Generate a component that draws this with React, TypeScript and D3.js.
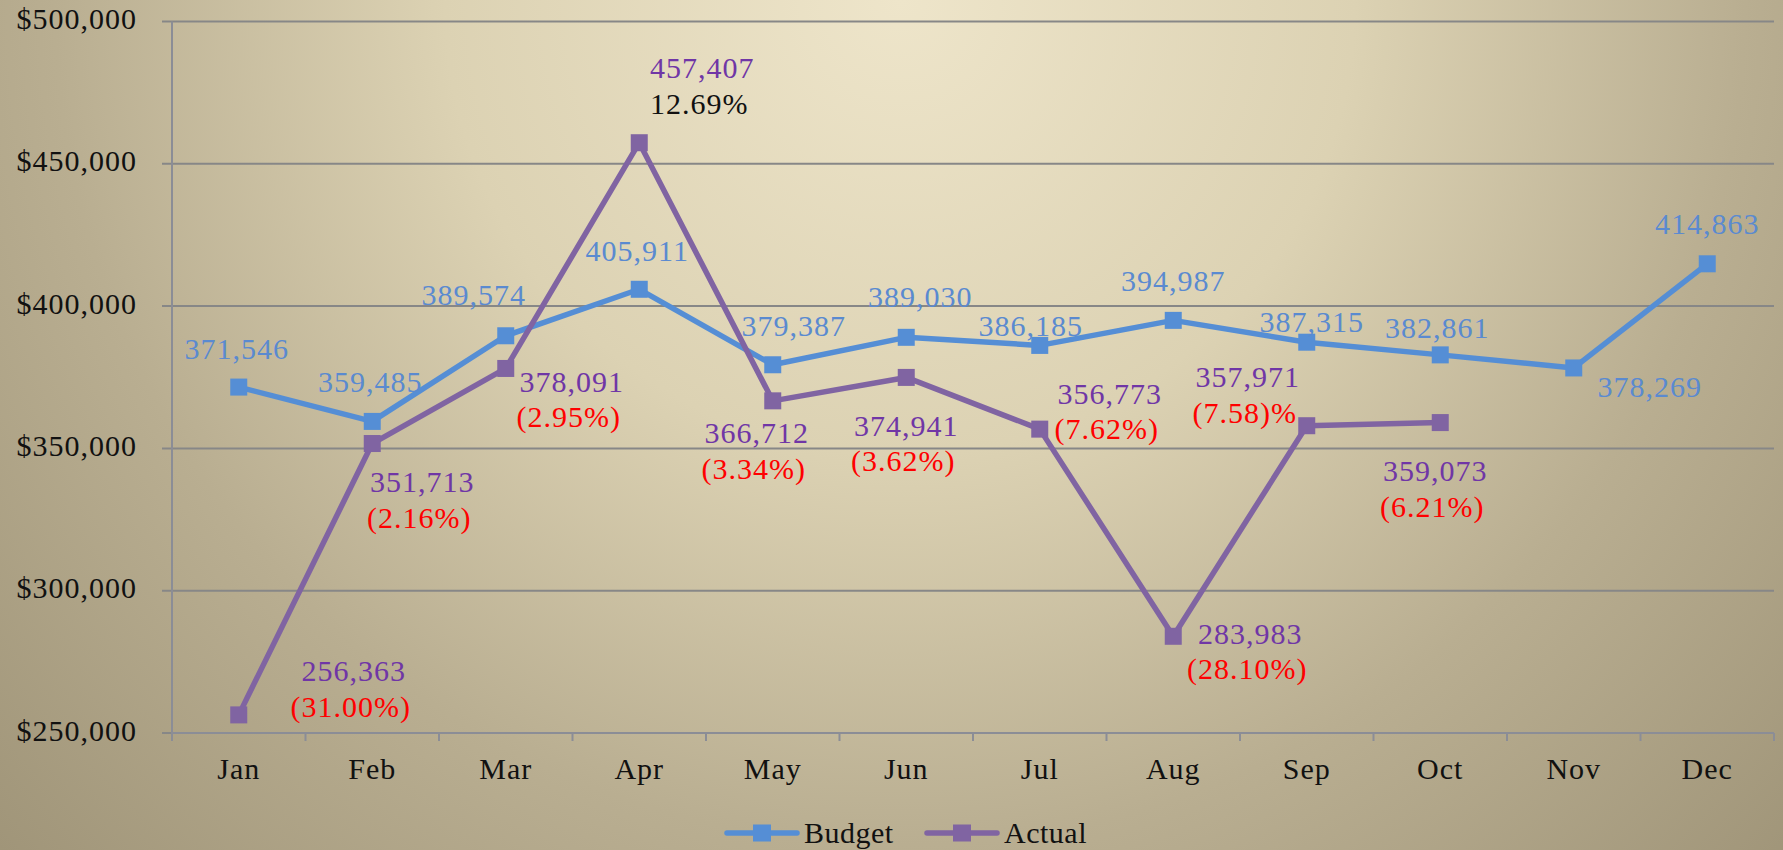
import { useRef, useEffect } from 'react';
import * as d3 from 'd3';

const MONTHS = ['Jan', 'Feb', 'Mar', 'Apr', 'May', 'Jun', 'Jul', 'Aug', 'Sep', 'Oct', 'Nov', 'Dec'];
const BUDGET = [371546, 359485, 389574, 405911, 379387, 389030, 386185, 394987, 387315, 382861, 378269, 414863];
const ACTUAL = [256363, 351713, 378091, 457407, 366712, 374941, 356773, 283983, 357971, 359073];
const VARIANCE = ['(31.00%)', '(2.16%)', '(2.95%)', '12.69%', '(3.34%)', '(3.62%)', '(7.62%)', '(28.10%)', '(7.58)%', '(6.21%)'];
const Y_TICKS = [250000, 300000, 350000, 400000, 450000, 500000];

// label nudges, [dx, dy] from the point (Excel places these by hand)
const BUDGET_LBL = [[-2, -39], [-2, -40], [-32, -41], [-2, -39], [21, -39], [14, -41], [-9, -20], [0, -40], [5, -21], [-3, -27], [76, 19], [0, -40]];
const ACTUAL_LBL = [[115, -44], [50, 38], [66, 13], [63, -75], [-16, 32], [0, 48], [70, -36], [77, -3], [-59, -49], [-5, 48]];

const BLUE = '#558ed5';
const PURPLE = '#8064a2';
const FONT = '"Liberation Serif", "Times New Roman", serif';
const FS = 30;

export default function App() {
  const ref = useRef<SVGSVGElement>(null);

  useEffect(() => {
    const W = 1783, H = 850;
    const m = { top: 21.5, right: 9, bottom: 117, left: 172 };
    const svg = d3.select(ref.current);
    svg.selectAll('*').remove();

    const defs = svg.append('defs');
    const grad = defs.append('radialGradient').attr('id', 'bg')
      .attr('gradientUnits', 'userSpaceOnUse')
      .attr('cx', 900).attr('cy', 0).attr('r', 1300);
    grad.append('stop').attr('offset', 0).attr('stop-color', '#eee5ca');
    grad.append('stop').attr('offset', 0.35).attr('stop-color', '#dcd2b3');
    grad.append('stop').attr('offset', 0.65).attr('stop-color', '#b9ae91');
    grad.append('stop').attr('offset', 1).attr('stop-color', '#9c9175');
    svg.append('rect').attr('width', W).attr('height', H).attr('fill', 'url(#bg)');

    const x = d3.scaleBand().domain(MONTHS).range([m.left, W - m.right]);
    const y = d3.scaleLinear().domain([250000, 500000]).range([H - m.bottom, m.top]);
    const cx = (i: number) => (x(MONTHS[i]) as number) + x.bandwidth() / 2;

    // gridlines + y labels
    Y_TICKS.forEach(t => {
      svg.append('line').attr('x1', m.left - 10).attr('x2', W - m.right)
        .attr('y1', y(t)).attr('y2', y(t))
        .attr('stroke', '#878787').attr('stroke-width', 2);
      svg.append('text').attr('x', 137).attr('y', y(t) - 3).attr('dy', '0.35em')
        .attr('text-anchor', 'end').attr('font-family', FONT).attr('font-size', FS)
        .attr('letter-spacing', 1).attr('fill', '#111')
        .text(d3.format('$,.0f')(t));
    });

    // axes
    svg.append('line').attr('x1', m.left).attr('x2', m.left).attr('y1', m.top).attr('y2', y(250000))
      .attr('stroke', '#8b8d96').attr('stroke-width', 2);
    svg.append('line').attr('x1', m.left).attr('x2', W - m.right).attr('y1', y(250000)).attr('y2', y(250000))
      .attr('stroke', '#8b8d96').attr('stroke-width', 2);
    d3.range(MONTHS.length + 1).forEach(i => {
      const tx = m.left + i * x.step();
      svg.append('line').attr('x1', tx).attr('x2', tx).attr('y1', y(250000)).attr('y2', y(250000) + 8)
        .attr('stroke', '#8b8d96').attr('stroke-width', 2);
    });
    MONTHS.forEach((mo, i) => {
      svg.append('text').attr('x', cx(i)).attr('y', 779).attr('text-anchor', 'middle')
        .attr('font-family', FONT).attr('font-size', FS).attr('letter-spacing', 1).attr('fill', '#111')
        .text(mo);
    });

    const line = d3.line<number>().x((_, i) => cx(i)).y(d => y(d));
    svg.append('path').datum(BUDGET).attr('d', line).attr('fill', 'none')
      .attr('stroke', BLUE).attr('stroke-width', 5.5).attr('stroke-linejoin', 'round');
    svg.append('path').datum(ACTUAL).attr('d', line).attr('fill', 'none')
      .attr('stroke', PURPLE).attr('stroke-width', 5.5).attr('stroke-linejoin', 'round');

    const ms = 17;
    BUDGET.forEach((v, i) => {
      svg.append('rect').attr('x', cx(i) - ms / 2).attr('y', y(v) - ms / 2)
        .attr('width', ms).attr('height', ms).attr('fill', BLUE);
    });
    ACTUAL.forEach((v, i) => {
      svg.append('rect').attr('x', cx(i) - ms / 2).attr('y', y(v) - ms / 2)
        .attr('width', ms).attr('height', ms).attr('fill', PURPLE);
    });

    const lbl = (tx: number, ty: number, s: string, fill: string) =>
      svg.append('text').attr('x', tx).attr('y', ty).attr('dy', '0.35em').attr('text-anchor', 'middle')
        .attr('font-family', FONT).attr('font-size', FS).attr('letter-spacing', 1)
        .attr('fill', fill).text(s);

    BUDGET.forEach((v, i) => {
      const [dx, dy] = BUDGET_LBL[i];
      lbl(cx(i) + dx, y(v) + dy, d3.format(',')(v), '#5a8ad0');
    });
    ACTUAL.forEach((v, i) => {
      const [dx, dy] = ACTUAL_LBL[i];
      lbl(cx(i) + dx, y(v) + dy, d3.format(',')(v), '#7036a6');
      const pct = VARIANCE[i];
      lbl(cx(i) + dx - 3, y(v) + dy + 35.5, pct, pct.startsWith('(') ? '#ff0000' : '#111');
    });

    // legend
    const legend = [
      { name: 'Budget', color: BLUE, x0: 727 },
      { name: 'Actual', color: PURPLE, x0: 927 },
    ];
    legend.forEach(l => {
      svg.append('line').attr('x1', l.x0).attr('x2', l.x0 + 70).attr('y1', 833).attr('y2', 833)
        .attr('stroke', l.color).attr('stroke-width', 5.5).attr('stroke-linecap', 'round');
      svg.append('rect').attr('x', l.x0 + 26).attr('y', 833 - 8.5).attr('width', 18).attr('height', 17)
        .attr('fill', l.color);
      svg.append('text').attr('x', l.x0 + 77).attr('y', 843).attr('font-family', FONT)
        .attr('font-size', FS).attr('letter-spacing', 0.5).attr('fill', '#111').text(l.name);
    });
  }, []);

  return (
    <svg ref={ref} width={1783} height={850}
      style={{ position: 'absolute', left: 0, top: 0, display: 'block' }} />
  );
}
